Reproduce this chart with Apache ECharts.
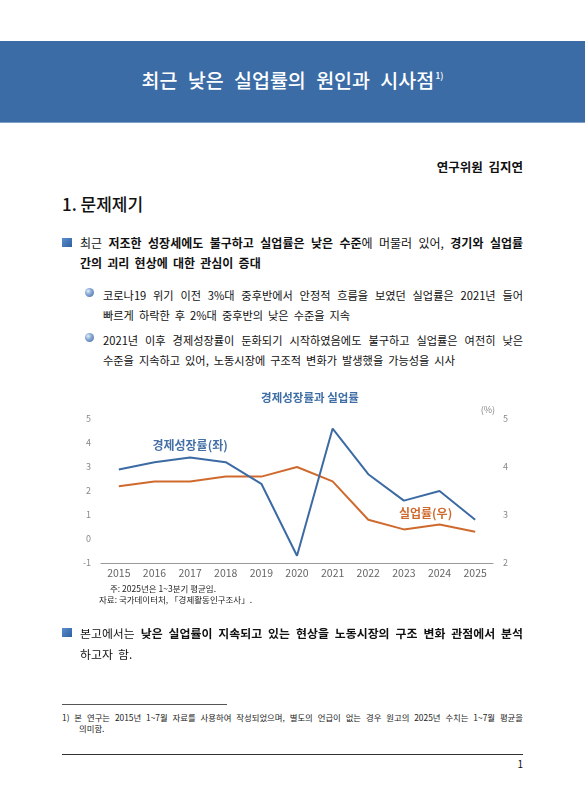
<!DOCTYPE html>
<html>
<head>
<meta charset="utf-8">
<script src="https://cdn.jsdelivr.net/npm/echarts@6/dist/echarts.min.js"></script>
<style>
  html, body { margin:0; padding:0; background:#fff; }
  body { width:585px; height:800px; position:relative; overflow:hidden;
         font-family:"Noto Sans CJK KR","Noto Sans",sans-serif; color:#111; }
  .band { position:absolute; left:0; top:41px; width:585px; height:81px; background:#3b6ca6;
          border-bottom:1px solid #7d9fc8; }
  .band .t { position:absolute; left:0; width:585px; top:24px; text-align:center; color:#fff;
             font-size:19.5px; font-weight:500; line-height:30px; word-spacing:6px; }
  .band .t sup { font-size:9px; vertical-align:top; position:relative; top:-4px; margin-left:1px; }
  .ln { position:absolute; white-space:nowrap; height:20px; line-height:20px; }
  .ws { word-spacing:2.5px; }
  .j { text-align:justify; text-align-last:justify; }
  .b { font-weight:bold; }
  .sq { position:absolute; width:10px; height:9px; background:linear-gradient(135deg,#5b8fd0,#2f5f9f); }
  .ci { position:absolute; width:9px; height:9px; border-radius:50%;
        background:radial-gradient(circle at 35% 35%, #e8f0fa 0%, #8fb0d8 35%, #3d64a0 100%); }
  #chart { position:absolute; left:60px; top:380px; width:480px; height:230px; }
  .note { position:absolute; font-size:8.5px; line-height:11px; white-space:nowrap; color:#222; }
  .fn { position:absolute; font-size:8.4px; line-height:11px; white-space:nowrap; color:#222; }
  .rule { position:absolute; height:1px; background:#333; }
</style>
</head>
<body>
<div class="band"><div class="t">최근 낮은 실업률의 원인과 시사점<sup>1)</sup></div></div>

<div class="ln b" style="right:62px; top:157px; font-size:12.5px; word-spacing:3px;">연구위원 김지연</div>
<div class="ln" style="left:62px; top:192px; font-size:17px; height:24px; line-height:24px; font-weight:500;">1. 문제제기</div>

<div class="sq" style="left:62px; top:238px;"></div>
<div class="ln j" style="left:80px; width:443px; top:233px; font-size:12px;">최근 <span class="b">저조한 성장세에도 불구하고 실업률은 낮은 수준</span>에 머물러 있어, <span class="b">경기와 실업률</span></div>
<div class="ln b ws" style="left:80px; top:253px; font-size:12px;">간의 괴리 현상에 대한 관심이 증대</div>

<div class="ci" style="left:85px; top:288px;"></div>
<div class="ln j" style="left:103px; width:420px; top:285px; font-size:11.2px;">코로나19 위기 이전 3%대 중후반에서 안정적 흐름을 보였던 실업률은 2021년 들어</div>
<div class="ln ws" style="left:103px; top:305px; font-size:11.2px;">빠르게 하락한 후 2%대 중후반의 낮은 수준을 지속</div>

<div class="ci" style="left:85px; top:333px;"></div>
<div class="ln j" style="left:103px; width:420px; top:330px; font-size:11.2px;">2021년 이후 경제성장률이 둔화되기 시작하였음에도 불구하고 실업률은 여전히 낮은</div>
<div class="ln ws" style="left:103px; top:350px; font-size:11.2px;">수준을 지속하고 있어, 노동시장에 구조적 변화가 발생했을 가능성을 시사</div>

<div id="chart"></div>

<div class="note" style="left:110px; top:583px;">주: 2025년은 1~3분기 평균임.</div>
<div class="note" style="left:99px; top:594px;">자료: 국가데이터처, 「경제활동인구조사」.</div>

<div class="sq" style="left:62px; top:628px;"></div>
<div class="ln j" style="left:80px; width:443px; top:623px; font-size:11.9px;">본고에서는 <span class="b">낮은 실업률이 지속되고 있는 현상을 노동시장의 구조 변화 관점에서 분석</span></div>
<div class="ln ws" style="left:80px; top:644px; font-size:11.9px;">하고자 함.</div>

<div class="rule" style="left:62px; top:704px; width:165px; background:#555;"></div>
<div class="fn j" style="left:62px; width:461px; top:712px;">1) 본 연구는 2015년 1~7월 자료를 사용하여 작성되었으며, 별도의 언급이 없는 경우 원고의 2025년 수치는 1~7월 평균을</div>
<div class="fn" style="left:79px; top:723px;">의미함.</div>

<div class="rule" style="left:62px; top:754px; width:461px;"></div>
<div class="ln" style="left:515px; top:754px; font-size:10px; width:8px; text-align:right;">1</div>

<script>
const years = ['2015','2016','2017','2018','2019','2020','2021','2022','2023','2024','2025'];
const growthRate = [2.9, 3.2, 3.4, 3.2, 2.3, -0.7, 4.6, 2.7, 1.6, 2.0, 0.8];
const unemploymentRate = [3.6, 3.7, 3.7, 3.8, 3.8, 4.0, 3.7, 2.9, 2.7, 2.8, 2.65];
const chartTitle = '경제성장률과 실업률';
const growthName = '경제성장률(좌)';
const unempName = '실업률(우)';
const growthLabelIndex = 2;
const unempLabelIndex = 9;

const FONT = '"Noto Sans CJK KR","Noto Sans",sans-serif';
const BLUE = '#3c6aa3';
const ORANGE = '#cf6a2e';

function withLabel(values, idx, text, color, offset, dist) {
  return values.map((v, i) => {
    if (i !== idx) return v;
    return {
      value: v,
      label: {
        show: true, formatter: text, position: 'top', distance: dist, offset: offset,
        color: color, fontSize: 12, fontWeight: 'bold', fontFamily: FONT
      }
    };
  });
}

const chart = echarts.init(document.getElementById('chart'), null, { renderer: 'canvas' });
chart.setOption({
  animation: false,
  title: {
    text: chartTitle, left: 245, top: 7, textAlign: 'center',
    textStyle: { fontSize: 11.5, fontWeight: 'bold', color: '#3f6ea5', fontFamily: FONT }
  },
  grid: { left: 41, right: 47, top: 39, bottom: 47 },
  xAxis: {
    type: 'category', data: years, boundaryGap: true,
    axisLine: { onZero: false, lineStyle: { color: '#999', width: 1 } },
    axisTick: { show: false },
    axisLabel: { color: '#666', fontSize: 10.5, margin: 5, fontFamily: FONT }
  },
  yAxis: [
    {
      type: 'value', min: -1, max: 5, interval: 1, position: 'left',
      axisLine: { show: false }, axisTick: { show: false }, splitLine: { show: false },
      axisLabel: { color: '#888', fontSize: 9, margin: 10, fontFamily: FONT }
    },
    {
      type: 'value', min: 2, max: 5, interval: 1, position: 'right',
      name: '(%)', nameLocation: 'end', nameGap: 5,
      nameTextStyle: { color: '#888', fontSize: 9, align: 'right', fontFamily: FONT, padding: [0, -2, 0, 0] },
      axisLine: { show: false }, axisTick: { show: false }, splitLine: { show: false },
      axisLabel: { color: '#888', fontSize: 9, margin: 10, fontFamily: FONT }
    }
  ],
  series: [
    {
      name: growthName, type: 'line', yAxisIndex: 0,
      data: withLabel(growthRate, growthLabelIndex, growthName, '#4470a6', [0, 0], 5),
      symbol: 'circle', symbolSize: 1, showSymbol: true,
      itemStyle: { color: 'rgba(0,0,0,0)' },
      lineStyle: { color: BLUE, width: 2 }, z: 3
    },
    {
      name: unempName, type: 'line', yAxisIndex: 1,
      data: withLabel(unemploymentRate, unempLabelIndex, unempName, ORANGE, [-14, 0], 5),
      symbol: 'circle', symbolSize: 1, showSymbol: true,
      itemStyle: { color: 'rgba(0,0,0,0)' },
      lineStyle: { color: ORANGE, width: 2 }, z: 2
    }
  ]
});
</script>
</body>
</html>
